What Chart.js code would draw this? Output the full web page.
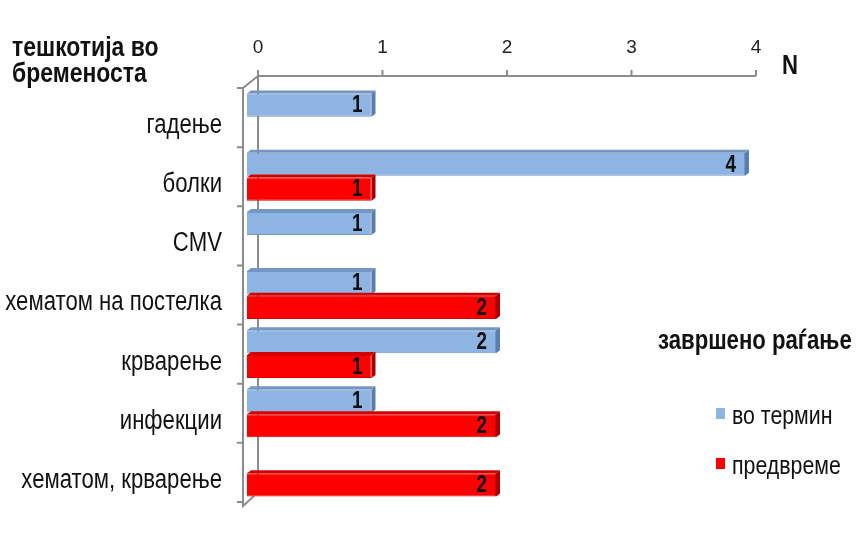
<!DOCTYPE html>
<html>
<head>
<meta charset="utf-8">
<script src="https://cdn.jsdelivr.net/npm/chart.js@4/dist/chart.umd.min.js"></script>
<style>
  html, body { margin: 0; padding: 0; background: #fff; }
  #wrap { position: relative; width: 862px; height: 535px; font-family: "Liberation Sans", Arial, sans-serif; color: #111; }
  .tesno { position: absolute; white-space: nowrap; transform: scaleX(0.82); transform-origin: 0 0; }
  #naslov { left: 12px; top: 34px; font-weight: bold; font-size: 28px; line-height: 26px; }
  #osN { left: 782px; top: 52px; font-weight: bold; font-size: 27px; line-height: 27px; }
  #legNaslov { left: 658px; top: 327px; font-weight: bold; font-size: 27px; line-height: 27px; }
  .stavka { font-size: 26px; line-height: 26px; }
  .kv { position: absolute; width: 9px; height: 11px; }
</style>
</head>
<body>
<div id="wrap">
  <canvas id="grafik" width="862" height="535"></canvas>
  <div id="naslov" class="tesno">тешкотија во<br>бременоста</div>
  <div id="osN" class="tesno">N</div>
  <div id="legenda"></div>
</div>
<script>
// тешкотии во бременоста според завршено раѓање
const kategorii = ['гадење', 'болки', 'CMV', 'хематом на постелка', 'крварење', 'инфекции', 'хематом, крварење'];
const voTermin = [1, 4, 1, 1, 2, 1, 0];
const predvreme = [0, 1, 0, 2, 1, 2, 2];
const serii = ['во термин', 'предвреме'];
const osTicks = [0, 1, 2, 3, 4];

const boi = [
  { lice: '#8DB4E2', strana: '#5A7FAE', gore: '#7496C4' },
  { lice: '#FF0000', strana: '#A80000', gore: '#D40000' }
];

const FONT = '"Liberation Sans", Arial, sans-serif';
const STISNI = 0.82; // потесен текст
const DLABOCINA = 11; // поместување на задниот ѕид
const DVIS = 12;

function tesenTekst(ctx, tekst, x, y) {
  ctx.save();
  ctx.translate(x, y);
  ctx.scale(STISNI, 1);
  ctx.fillText(tekst, 0, 0);
  ctx.restore();
}

// рамка со 3Д изглед (заден ѕид, горна оска, лева заграда) и натписи на категориите
const ramka = {
  id: 'ramka',
  beforeDatasetsDraw(chart) {
    const { ctx, chartArea: a, scales } = chart;
    ctx.save();
    ctx.strokeStyle = '#8C8C8C';
    ctx.lineWidth = 2;
    const zadY = a.top - DVIS;
    // горна оска
    ctx.beginPath();
    ctx.moveTo(a.left + DLABOCINA, zadY);
    ctx.lineTo(a.right + DLABOCINA, zadY);
    osTicks.forEach(v => {
      const px = scales.x.getPixelForValue(v) + DLABOCINA;
      ctx.moveTo(px, zadY);
      ctx.lineTo(px, zadY - 6);
    });
    // заден ѕид
    ctx.moveTo(a.left + DLABOCINA, zadY);
    ctx.lineTo(a.left + DLABOCINA, a.bottom - DVIS);
    ctx.stroke();
    // лева заграда
    const lx = a.left - 4;
    ctx.beginPath();
    ctx.moveTo(a.left + DLABOCINA, zadY);
    ctx.lineTo(lx, a.top);
    ctx.lineTo(lx, a.bottom + 4);
    ctx.lineTo(a.left + DLABOCINA - 4, a.bottom - DVIS + 6);
    const n = kategorii.length;
    for (let i = 0; i <= n; i++) {
      const y = a.top + (a.bottom - a.top) * i / n;
      ctx.moveTo(lx, y);
      ctx.lineTo(lx - 6, y);
    }
    ctx.stroke();
    // натписи на категориите
    ctx.fillStyle = '#111';
    ctx.font = '27px ' + FONT;
    ctx.textAlign = 'right';
    ctx.textBaseline = 'middle';
    kategorii.forEach((k, i) => {
      tesenTekst(ctx, k, 222, scales.y.getPixelForTick(i) + 8);
    });
    ctx.restore();
  },
  afterDatasetsDraw(chart) {
    const { ctx } = chart;
    ctx.save();
    chart.data.datasets.forEach((ds, di) => {
      const meta = chart.getDatasetMeta(di);
      meta.data.forEach((bar, i) => {
        const v = ds.data[i];
        if (!v) return;
        const c = boi[di];
        const top = bar.y - bar.height / 2;
        const bot = bar.y + bar.height / 2;
        const dx = 4, dy = 3;
        // горна страна
        ctx.fillStyle = c.gore;
        ctx.beginPath();
        ctx.moveTo(bar.base, top);
        ctx.lineTo(bar.base + dx, top - dy);
        ctx.lineTo(bar.x + dx, top - dy);
        ctx.lineTo(bar.x, top);
        ctx.closePath();
        ctx.fill();
        // десна страна
        ctx.fillStyle = c.strana;
        ctx.beginPath();
        ctx.moveTo(bar.x, top);
        ctx.lineTo(bar.x + dx, top - dy);
        ctx.lineTo(bar.x + dx, bot - dy);
        ctx.lineTo(bar.x, bot);
        ctx.closePath();
        ctx.fill();
        // вредност
        ctx.fillStyle = '#111';
        ctx.font = 'bold 23px ' + FONT;
        ctx.textAlign = 'right';
        ctx.textBaseline = 'middle';
        tesenTekst(ctx, String(v), bar.x - 9, bar.y + 1);
      });
    });
    ctx.restore();
  }
};

new Chart(document.getElementById('grafik').getContext('2d'), {
  type: 'bar',
  data: {
    labels: kategorii,
    datasets: [
      { label: serii[0], data: voTermin, backgroundColor: boi[0].lice, borderColor: boi[0].gore, borderWidth: 1, borderSkipped: 'left' },
      { label: serii[1], data: predvreme, backgroundColor: boi[1].lice, borderColor: boi[1].gore, borderWidth: 1, borderSkipped: 'left' }
    ]
  },
  options: {
    indexAxis: 'y',
    responsive: false,
    animation: false,
    layout: { padding: { left: 0, right: 117, top: 0, bottom: 33 } },
    categoryPercentage: 0.84,
    barPercentage: 0.93,
    scales: {
      x: {
        position: 'top',
        min: 0,
        max: 4,
        afterFit(s) { s.height = 88; },
        grid: { display: false, drawTicks: false },
        border: { display: false },
        ticks: { stepSize: 1, padding: 29, labelOffset: DLABOCINA, color: '#222', font: { family: FONT, size: 19 } }
      },
      y: {
        afterFit(s) { s.width = 247; },
        grid: { display: false, drawTicks: false },
        border: { display: false },
        ticks: { display: false }
      }
    },
    plugins: {
      legend: { display: false },
      tooltip: { enabled: false }
    }
  },
  plugins: [ramka]
});

// легенда
const leg = document.getElementById('legenda');
let html = '<div id="legNaslov" class="tesno">завршено раѓање</div>';
serii.forEach((s, i) => {
  const y = 402 + i * 50;
  html += '<div class="kv" style="left:716px;top:' + (y + 6) + 'px;background:' + boi[i].lice + '"></div>' +
    '<div class="tesno stavka" style="left:732px;top:' + y + 'px">' + s + '</div>';
});
leg.innerHTML = html;
</script>
</body>
</html>
